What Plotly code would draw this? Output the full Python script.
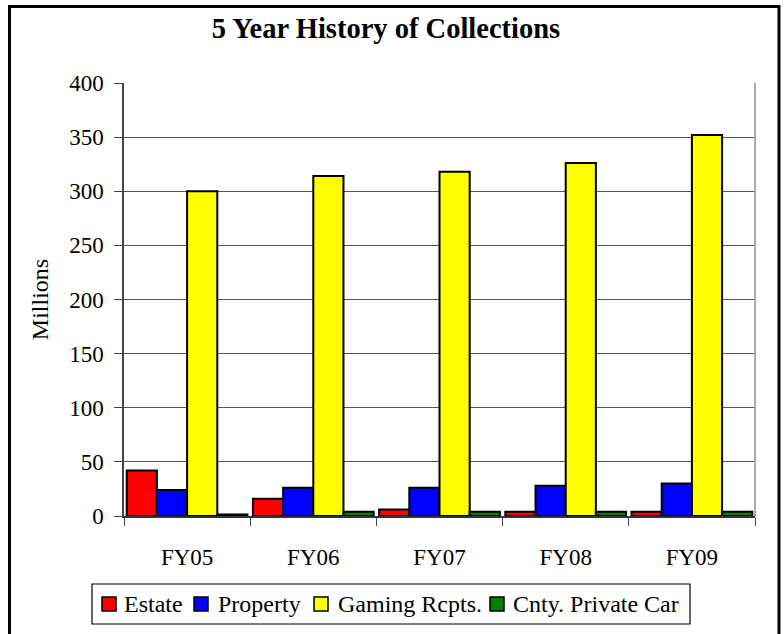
import plotly.graph_objects as go

years = ["FY05", "FY06", "FY07", "FY08", "FY09"]
estate = [42, 16, 6, 4, 4]
property_ = [24, 26, 26, 28, 30]
gaming = [300, 314, 318, 326, 352]
cnty = [1.5, 4, 4, 4, 4]

series_names = ["Estate", "Property", "Gaming Rcpts.", "Cnty. Private Car"]
series_vals = [estate, property_, gaming, cnty]
colors = ["#ff0000", "#0000ff", "#ffff00", "#008000"]

FONT = "Liberation Serif"

fig = go.Figure()
for name, vals, col in zip(series_names, series_vals, colors):
    fig.add_trace(go.Bar(
        x=years, y=vals, name=name, showlegend=False,
        marker=dict(color=col, line=dict(color="black", width=2)),
    ))

W, H = 784, 634
L, R, T, B = 124, 29, 83, 118
pw, ph = W - L - R, H - T - B


def px(x):
    return (x - L) / pw


def py(y):
    return (H - B - y) / ph


fig.update_layout(
    width=W, height=H,
    margin=dict(l=L, r=R, t=T, b=B, autoexpand=False),
    paper_bgcolor="white", plot_bgcolor="white",
    font=dict(family=FONT, color="black", size=23),
    title=dict(text="<b>5 Year History of Collections</b>", x=386 / W, xref="container",
               xanchor="center", y=1 - 28 / H, yanchor="middle",
               font=dict(family=FONT, size=28.5, color="black")),
    barmode="group", bargap=0.043, bargroupgap=0,
    showlegend=False,
    xaxis=dict(showgrid=False, showline=True, linecolor="#333333", linewidth=1.5,
               ticks="outside", tickson="boundaries", ticklen=8, tickcolor="#444444",
               tickfont=dict(family=FONT, size=23), ticklabelstandoff=20),
    yaxis=dict(range=[0, 400], dtick=50, showgrid=True, gridcolor="#555555", gridwidth=1,
               showline=True, linecolor="#444444", linewidth=1.5,
               ticks="outside", ticklen=8, tickcolor="#444444",
               tickfont=dict(family=FONT, size=23), ticklabelstandoff=6,
               title=dict(text="Millions", font=dict(family=FONT, size=24), standoff=14),
               zeroline=False),
)

# plot-area right edge (light grey)
fig.add_shape(type="line", xref="paper", yref="paper", x0=1, x1=1, y0=0, y1=1,
              line=dict(color="#aaaaaa", width=2))
# outer chart border (bottom edge runs past the bottom of the picture)
fig.add_shape(type="rect", xref="paper", yref="paper",
              x0=px(9.5), x1=px(779), y0=py(H + 3), y1=py(6.5),
              line=dict(color="black", width=3), fillcolor="rgba(0,0,0,0)", layer="above")

# legend box (drawn as in the original chart)
leg_box = (92, 584, 690, 624)
fig.add_shape(type="rect", xref="paper", yref="paper",
              x0=px(leg_box[0]), x1=px(leg_box[2]), y0=py(leg_box[3]), y1=py(leg_box[1]),
              line=dict(color="black", width=1.2), fillcolor="white")
sym_x = [102, 194, 314, 490]
txt_x = [122, 216, 336, 511]
sym_size = 14
sym_cy = 604
for name, col, sx, tx in zip(series_names, colors, sym_x, txt_x):
    fig.add_shape(type="rect", xref="paper", yref="paper",
                  x0=px(sx), x1=px(sx + sym_size),
                  y0=py(sym_cy + sym_size / 2), y1=py(sym_cy - sym_size / 2),
                  line=dict(color="black", width=1.5), fillcolor=col)
    fig.add_annotation(text=name, xref="paper", yref="paper", x=px(tx), y=py(sym_cy),
                       xanchor="left", yanchor="middle", showarrow=False,
                       font=dict(family=FONT, size=24, color="black"))

fig.write_html("out.html", config={"displayModeBar": False},
               post_script="document.body.style.margin='0';")
